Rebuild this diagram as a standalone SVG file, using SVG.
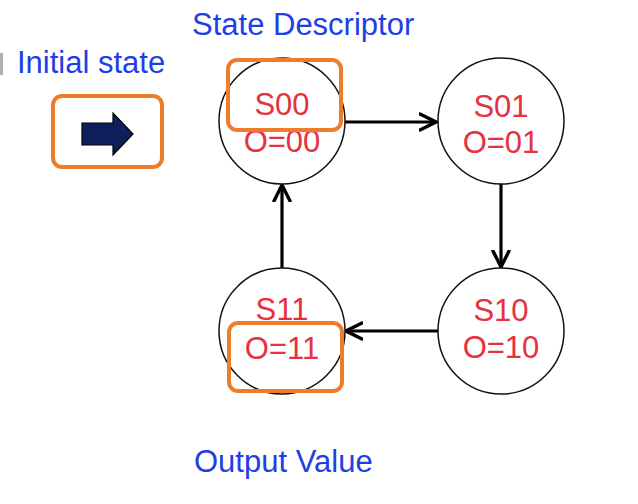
<svg xmlns="http://www.w3.org/2000/svg" width="638" height="504" viewBox="0 0 638 504">
<style>
.state{fill:#ffffff;stroke:#111111;stroke-width:1.5}
.st{font-family:"Liberation Sans",Arial,sans-serif;font-size:31px;fill:#e5323e;text-anchor:middle}
.lbl{font-family:"Liberation Sans",Arial,sans-serif;font-size:31px;fill:#1d40e6}
.hl{fill:none;stroke:#ef7c2d;stroke-width:4}
.edge{stroke:#000000;stroke-width:3.2;fill:none}
</style>
<defs>
<marker id="chev" markerWidth="20" markerHeight="20" viewBox="0 0 20 20" refX="17" refY="10" orient="auto" markerUnits="userSpaceOnUse">
<path d="M1,2 L17,10 L1,18" fill="none" stroke="#000" stroke-width="3.4" stroke-linejoin="miter" stroke-linecap="round"/>
</marker>
</defs>
<rect x="0" y="53" width="3" height="22" fill="#b0b0b0"/>
<text class="lbl" x="17" y="73">Initial state</text>
<text class="lbl" x="192" y="35">State Descriptor</text>
<text class="lbl" x="194" y="472">Output Value</text>
<g id="initial">
<rect class="hl" x="53" y="96" width="109" height="71" rx="9"/>
<path d="M82,123 L113,123 L113,113 L133,134 L113,155 L113,145 L82,145 Z" fill="#0e1f5c" stroke="#000" stroke-width="1.2"/>
</g>
<g id="connectors">
<line class="edge" x1="345" y1="122" x2="436" y2="122" marker-end="url(#chev)"/>
<line class="edge" x1="501" y1="184" x2="501" y2="267" marker-end="url(#chev)"/>
<line class="edge" x1="438" y1="331" x2="346" y2="331" marker-end="url(#chev)"/>
<line class="edge" x1="282" y1="268" x2="282" y2="185" marker-end="url(#chev)"/>
</g>
<g id="S00">
<circle class="state" cx="282" cy="121" r="63"/>
<text class="st" x="282" y="115">S00</text>
<text class="st" x="282" y="152">O=00</text>
<rect class="hl" x="228" y="60" width="113" height="70" rx="9"/>
</g>
<g id="S01">
<circle class="state" cx="501" cy="121" r="63"/>
<text class="st" x="501" y="117">S01</text>
<text class="st" x="501" y="153">O=01</text>
</g>
<g id="S10">
<circle class="state" cx="501" cy="331" r="63"/>
<text class="st" x="501" y="321">S10</text>
<text class="st" x="501" y="358">O=10</text>
</g>
<g id="S11">
<circle class="state" cx="282" cy="331" r="63"/>
<text class="st" x="282" y="320">S11</text>
<text class="st" x="282" y="359">O=11</text>
<rect class="hl" x="229" y="323" width="113" height="68" rx="9"/>
</g>
</svg>
